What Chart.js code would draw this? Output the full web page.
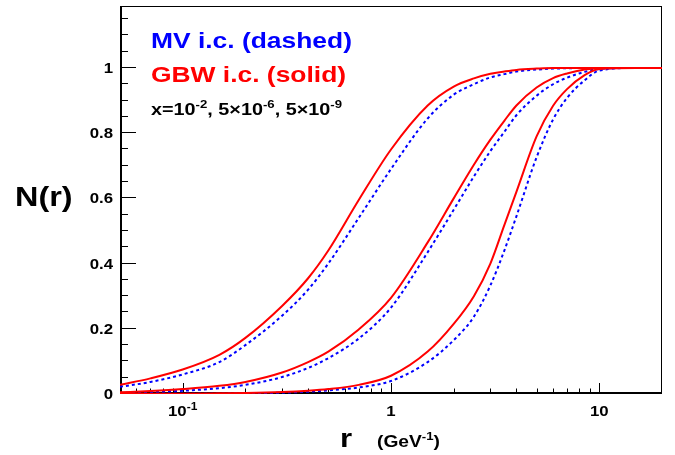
<!DOCTYPE html>
<html>
<head>
<meta charset="utf-8">
<script src="https://cdn.jsdelivr.net/npm/chart.js@4"></script>
<style>
  html, body { margin: 0; padding: 0; background: #fff; }
</style>
</head>
<body>
<canvas id="dipoleGraph" width="675" height="455"></canvas>
<script>
// Dipole radius r (GeV^-1) sampled along the curves
const radii = [0.05, 0.07, 0.1, 0.15, 0.2, 0.3, 0.4, 0.5, 0.7, 1, 1.5, 2, 2.5, 3, 3.5, 4, 5, 6, 7, 8.5, 10, 15, 20];

// N(r) for x = 1e-2, 5e-6, 5e-9 (GBW solid red, MV dashed blue)
const gbwX1 = [0.028, 0.048, 0.075, 0.12, 0.172, 0.27, 0.355, 0.44, 0.595, 0.75, 0.885, 0.943, 0.968, 0.982, 0.989, 0.994, 0.998, 1.0, 1.0, 1.0, 1.0, 1.0, 1.0];
const mvX1  = [0.022, 0.037, 0.06, 0.098, 0.15, 0.24, 0.32, 0.40, 0.54, 0.69, 0.845, 0.918, 0.95, 0.971, 0.981, 0.989, 0.995, 0.998, 0.999, 1.0, 1.0, 1.0, 1.0];
const gbwX2 = [0.005, 0.009, 0.015, 0.025, 0.037, 0.066, 0.098, 0.13, 0.198, 0.295, 0.465, 0.60, 0.703, 0.78, 0.838, 0.885, 0.94, 0.969, 0.983, 0.995, 1.0, 1.0, 1.0];
const mvX2  = [0.003, 0.006, 0.010, 0.018, 0.028, 0.052, 0.08, 0.11, 0.17, 0.265, 0.435, 0.565, 0.667, 0.745, 0.804, 0.855, 0.915, 0.95, 0.97, 0.988, 0.997, 1.0, 1.0];
const gbwX3 = [0.0, 0.001, 0.001, 0.002, 0.003, 0.006, 0.01, 0.015, 0.028, 0.056, 0.13, 0.215, 0.30, 0.40, 0.518, 0.62, 0.79, 0.884, 0.935, 0.978, 0.997, 1.0, 1.0];
const mvX3  = [0.0, 0.0, 0.001, 0.001, 0.002, 0.004, 0.007, 0.011, 0.02, 0.04, 0.098, 0.165, 0.237, 0.333, 0.44, 0.545, 0.726, 0.842, 0.908, 0.962, 0.992, 1.0, 1.0];

// Axis ticks
const yMajorTicks = [0, 0.2, 0.4, 0.6, 0.8, 1];
const yMinorTicks = [0.05, 0.1, 0.15, 0.25, 0.3, 0.35, 0.45, 0.5, 0.55, 0.65, 0.7, 0.75, 0.85, 0.9, 0.95, 1.05, 1.1, 1.15];
const xMajorTicks = [0.1, 1, 10];
const xMajorLabels = [['10', '-1'], ['1', ''], ['10', '']];
const xMinorTicks = [0.06, 0.07, 0.08, 0.09, 0.2, 0.3, 0.4, 0.5, 0.6, 0.7, 0.8, 0.9, 2, 3, 4, 5, 6, 7, 8, 9];

const RED = '#ff0000';
const BLUE = '#0000ff';
const FONT = '"Liberation Sans", Arial, Helvetica, sans-serif';
const SX = 1.2; // ROOT text looks a bit wider than Helvetica

const toPoints = vals => radii.map((r, i) => ({ x: r, y: vals[i] }));

function solid(vals) {
    return { data: toPoints(vals), borderColor: RED, borderWidth: 2, order: 0,
             cubicInterpolationMode: 'monotone', pointRadius: 0, fill: false };
}
function dashed(vals) {
    return { data: toPoints(vals), borderColor: BLUE, borderWidth: 2, borderDash: [3, 3], order: 1,
             cubicInterpolationMode: 'monotone', pointRadius: 0, fill: false };
}

// text with optional superscript pieces: [{text, size, rise}]
function richWidth(ctx, parts) {
    let w = 0;
    parts.forEach(p => {
        ctx.font = `bold ${p.size}px ${FONT}`;
        w += ctx.measureText(p.text).width * SX;
    });
    return w;
}
function drawRich(ctx, parts, x, y, align, color) {
    const w = richWidth(ctx, parts);
    let cx = align === 'center' ? x - w / 2 : align === 'right' ? x - w : x;
    ctx.fillStyle = color;
    ctx.textAlign = 'left';
    ctx.textBaseline = 'alphabetic';
    parts.forEach(p => {
        ctx.font = `bold ${p.size}px ${FONT}`;
        ctx.save();
        ctx.translate(cx, y - (p.rise || 0));
        ctx.scale(SX, 1);
        ctx.fillText(p.text, 0, 0);
        ctx.restore();
        cx += ctx.measureText(p.text).width * SX;
    });
}

const rootFrame = {
    id: 'rootFrame',
    beforeDatasetsDraw(chart) {
        const { ctx, chartArea: a, scales: { x, y } } = chart;
        ctx.save();
        ctx.strokeStyle = '#000';
        // frame
        ctx.lineWidth = 1;
        ctx.strokeRect(a.left + 0.5, a.top + 0.5, a.right - a.left - 1, a.bottom - a.top - 1);
        // axes
        ctx.lineWidth = 2;
        ctx.beginPath();
        ctx.moveTo(a.left + 1, a.top);
        ctx.lineTo(a.left + 1, a.bottom);
        ctx.moveTo(a.left, a.bottom - 1);
        ctx.lineTo(a.right, a.bottom - 1);
        ctx.stroke();
        // ticks
        ctx.lineWidth = 1;
        ctx.beginPath();
        yMajorTicks.forEach(v => {
            const py = Math.round(y.getPixelForValue(v)) - 0.5;
            ctx.moveTo(a.left, py); ctx.lineTo(a.left + 16, py);
        });
        yMinorTicks.forEach(v => {
            const py = Math.round(y.getPixelForValue(v)) - 0.5;
            ctx.moveTo(a.left, py); ctx.lineTo(a.left + 8, py);
        });
        xMajorTicks.forEach(v => {
            const px = Math.round(x.getPixelForValue(v)) + 0.5;
            ctx.moveTo(px, a.bottom); ctx.lineTo(px, a.bottom - 11);
        });
        xMinorTicks.forEach(v => {
            const px = Math.round(x.getPixelForValue(v)) + 0.5;
            ctx.moveTo(px, a.bottom); ctx.lineTo(px, a.bottom - 5.5);
        });
        ctx.stroke();
        ctx.restore();
    },
    afterDraw(chart) {
        const { ctx, chartArea: a, scales: { x, y } } = chart;
        ctx.save();
        // y tick labels
        yMajorTicks.forEach(v => {
            drawRich(ctx, [{ text: String(v), size: 14 }], a.left - 7, y.getPixelForValue(v) + 5, 'right', '#000');
        });
        // x tick labels
        xMajorTicks.forEach((v, i) => {
            const [base, sup] = xMajorLabels[i];
            const parts = [{ text: base, size: 14 }];
            if (sup) parts.push({ text: sup, size: 10, rise: 6 });
            drawRich(ctx, parts, x.getPixelForValue(v), a.bottom + 22, 'center', '#000');
        });
        // axis titles
        drawRich(ctx, [{ text: 'r', size: 26 }], 340, 447, 'left', '#000');
        drawRich(ctx, [{ text: '(GeV', size: 16 }, { text: '-1', size: 11, rise: 7 }, { text: ')', size: 16 }],
                 377, 447, 'left', '#000');
        drawRich(ctx, [{ text: 'N(r)', size: 27 }], 15, 206, 'left', '#000');
        // labels inside the frame
        drawRich(ctx, [{ text: 'MV i.c. (dashed)', size: 22 }], 151, 48, 'left', BLUE);
        drawRich(ctx, [{ text: 'GBW i.c. (solid)', size: 22 }], 151, 82, 'left', RED);
        drawRich(ctx, [
            { text: 'x=10', size: 16.5 }, { text: '-2', size: 11, rise: 7 },
            { text: ', 5\u00d710', size: 16.5 }, { text: '-6', size: 11, rise: 7 },
            { text: ', 5\u00d710', size: 16.5 }, { text: '-9', size: 11, rise: 7 }
        ], 151, 115, 'left', '#000');
        ctx.restore();
    }
};

const ctx = document.getElementById('dipoleGraph').getContext('2d');
const chart = new Chart(ctx, {
    type: 'line',
    data: {
        datasets: [
            solid(gbwX1), solid(gbwX2), solid(gbwX3),
            dashed(mvX1), dashed(mvX2), dashed(mvX3)
        ]
    },
    options: {
        responsive: false,
        animation: false,
        layout: { padding: { left: 120, right: 13, top: 6, bottom: 61 } },
        scales: {
            x: { type: 'logarithmic', min: 0.05, max: 20, display: false },
            y: { type: 'linear', min: 0, max: 1.19, display: false }
        },
        plugins: {
            legend: { display: false },
            tooltip: { enabled: false }
        }
    },
    plugins: [rootFrame]
});
</script>
</body>
</html>
